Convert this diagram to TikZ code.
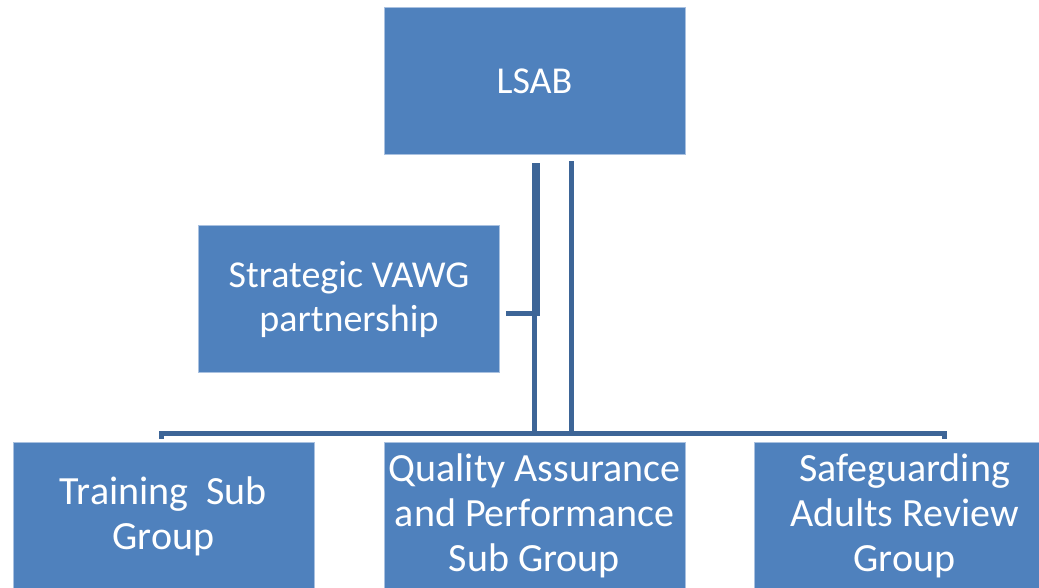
\documentclass[tikz,border=0pt]{standalone}
\usepackage{fontspec}
\setmainfont{Carlito}
\usetikzlibrary{positioning, calc}
\definecolor{boxblue}{HTML}{4F81BD}
\definecolor{linkblue}{HTML}{3D6597}
\definecolor{edgeblue}{HTML}{A9C1E0}

\begin{document}
\begin{tikzpicture}[x=1pt, y=-1pt,
  unit/.style={draw=edgeblue, line width=1pt, fill=boxblue, text=white, minimum width=301pt, minimum height=147pt, align=center, inner sep=0pt, font=\fontsize{38}{44}\selectfont},
  team/.style={unit, font=\fontsize{40}{45}\selectfont},
  link/.style={draw=linkblue, line width=5pt}]
\useasboundingbox (0,0) rectangle (1039,588);

% boxes
\node[unit] (lsab) at (534.5,81.5) {LSAB};
\node[unit] (vawg) at (349,299) {Strategic VAWG\\partnership};
\node[team] (training) at (163.5,516) {Training~~Sub\\Group};
\node[team] (quality) at (534.5,516) {Quality Assurance\\and Performance\\Sub Group};
\node[team] (review) at (904.5,516) {Safeguarding\\Adults Review\\Group};

% connectors
\coordinate (busL) at (161,433);
\coordinate (busR) at (944,433);
\coordinate (mainTop) at ($(lsab.south)+(0,8)$);
\coordinate (vawgTop) at ($(lsab.south)+(2.5,8)$);
\coordinate (sideTop) at ($(lsab.south)+(36.5,6)$);
\draw[link] (vawgTop) |- ($(vawg.east)+(6,14)$);
\draw[link] (mainTop) -- (mainTop |- busL);
\draw[link] (sideTop) -- (sideTop |- busL);
\draw[link] ($(busL)+(0,6)$) -- (busL) -- (busR) -- ++(0,6);
\end{tikzpicture}
\end{document}
